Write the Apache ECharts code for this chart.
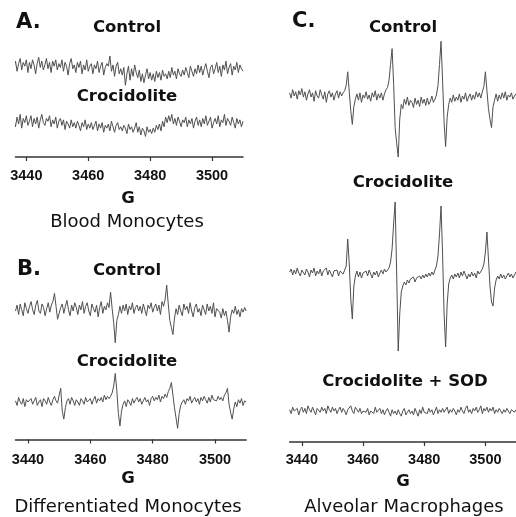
<!DOCTYPE html>
<html>
<head>
<meta charset="utf-8">
<script src="https://cdn.jsdelivr.net/npm/echarts@6/dist/echarts.min.js"></script>
<style>html,body{margin:0;padding:0;background:#fff}#c{width:516px;height:517px}</style>
</head>
<body>
<div id="c"></div>
<script>
// Magnetic field (G), sampled every 0.5 G
const field = [
3436,3436.5,3437,3437.5,3438,3438.5,3439,3439.5,3440,3440.5,
3441,3441.5,3442,3442.5,3443,3443.5,3444,3444.5,3445,3445.5,
3446,3446.5,3447,3447.5,3448,3448.5,3449,3449.5,3450,3450.5,
3451,3451.5,3452,3452.5,3453,3453.5,3454,3454.5,3455,3455.5,
3456,3456.5,3457,3457.5,3458,3458.5,3459,3459.5,3460,3460.5,
3461,3461.5,3462,3462.5,3463,3463.5,3464,3464.5,3465,3465.5,
3466,3466.5,3467,3467.5,3468,3468.5,3469,3469.5,3470,3470.5,
3471,3471.5,3472,3472.5,3473,3473.5,3474,3474.5,3475,3475.5,
3476,3476.5,3477,3477.5,3478,3478.5,3479,3479.5,3480,3480.5,
3481,3481.5,3482,3482.5,3483,3483.5,3484,3484.5,3485,3485.5,
3486,3486.5,3487,3487.5,3488,3488.5,3489,3489.5,3490,3490.5,
3491,3491.5,3492,3492.5,3493,3493.5,3494,3494.5,3495,3495.5,
3496,3496.5,3497,3497.5,3498,3498.5,3499,3499.5,3500,3500.5,
3501,3501.5,3502,3502.5,3503,3503.5,3504,3504.5,3505,3505.5,
3506,3506.5,3507,3507.5,3508,3508.5,3509,3509.5,3510];

// A. Blood monocytes
const bloodControl = [
2,7,-1,5,9,0,6,3,8,-2,
6,1,8,4,-3,5,10,2,7,0,
4,9,1,6,-2,7,3,8,0,5,
2,8,-1,6,3,-4,5,9,1,4,
-2,6,2,7,-3,4,0,8,-1,3,
5,-3,4,1,7,-2,3,6,-4,2,
5,3,11,-1,4,-5,3,6,-3,1,
-4,2,-12,-3,3,-8,1,-5,4,-2,
-6,0,-9,-3,-10,-4,1,-7,-2,-8,
-3,-9,-1,-6,-2,-8,0,-5,-3,-7,
-1,-6,2,-4,-1,-7,1,-3,-5,0,
-4,2,-2,-6,3,-1,-5,1,-3,4,
-2,3,-4,1,5,-1,-6,2,4,-3,
1,6,-2,3,-5,4,0,7,-3,2,
5,-4,3,0,6,-2,4,1,-1];
const bloodCroc = [
3,-2,5,0,7,-3,4,1,6,-1,
2,6,-2,4,0,5,-3,3,7,1,
-1,4,2,6,-2,3,0,5,-3,2,
4,-1,3,-4,2,0,-3,3,-2,1,
-3,2,-1,-5,1,-2,3,-4,0,-3,
1,-4,-1,2,-5,0,-3,1,-6,-1,
-3,0,-5,2,-2,-6,-1,1,-4,-2,
-5,-1,-3,-7,0,-4,-2,-6,-3,1,
-6,-2,-8,-3,-5,-9,-2,-6,-4,-7,
-3,-6,-1,-4,0,-5,2,-2,5,1,
6,2,7,0,4,-1,5,2,-2,3,
1,5,-2,3,0,4,-3,2,5,-1,
3,-2,4,0,6,-1,2,5,-3,1,
4,0,6,-2,3,1,7,-1,4,2,
-1,5,1,-3,4,0,3,-2,2];

// B. Differentiated monocytes
const diffControl = [
0,5,-3,6,1,-4,7,2,-2,4,
8,1,-3,5,9,0,-2,6,3,-4,
2,7,-1,5,8,15,4,-7,-2,3,
6,-2,4,9,1,-4,5,0,7,3,
-3,5,1,8,-2,4,7,0,-4,6,
2,-1,5,-5,3,8,-2,4,1,7,
3,16,2,-10,-27,-8,-3,4,-2,5,
0,6,-3,4,1,7,-2,3,5,0,
4,-2,6,1,-4,5,2,7,-1,3,
6,0,5,-3,8,4,10,22,6,-8,
-14,-20,-6,2,-3,5,0,-4,6,1,
4,-2,7,0,-5,3,6,-1,2,-4,
5,1,-3,6,0,4,-2,7,-5,2,
3,-1,-6,2,-4,0,-8,-18,-5,1,
-2,4,-3,1,-5,2,-1,3,0];
const diffCroc = [
1,-3,4,0,-2,3,-4,2,0,-1,
3,-2,1,4,-3,0,2,-4,3,1,
-2,4,0,-3,2,5,1,-1,6,12,
-8,-15,-5,1,3,-2,4,1,-3,2,
0,-3,3,1,-2,4,0,-1,3,-2,
2,5,-1,3,1,4,0,6,2,5,
3,5,8,14,25,10,-10,-21,-8,-2,
1,-4,2,0,-3,3,-1,2,4,0,
3,-2,1,4,0,2,-3,3,5,1,
4,2,6,0,5,3,7,4,9,12,
17,6,-5,-14,-23,-10,-3,0,2,-2,
3,1,5,-1,2,4,0,3,-2,4,
1,5,2,-1,4,0,6,2,3,1,
5,2,4,1,6,8,12,-2,-9,-15,
-6,0,-4,2,-1,3,-3,1,0];

// C. Alveolar macrophages
const alvControl = [
3,-2,6,0,4,-3,5,1,7,-1,
4,-4,2,6,-1,3,-5,5,0,-2,
6,1,-3,4,-6,2,5,-1,3,-4,
2,5,-2,4,0,3,5,10,23,4,
-14,-27,-10,-3,2,-4,3,-6,1,-2,
4,-3,1,-5,3,-1,5,-4,2,-2,
3,-4,2,6,8,15,30,45,12,-30,
-45,-58,-22,-8,-12,-3,-8,-1,-9,-4,
-6,-11,-2,-8,-4,-10,-1,-7,-3,-9,
-2,-8,-5,0,-6,-3,1,10,30,52,
15,-25,-48,-20,-8,-2,-6,1,-5,-1,
-4,2,-6,0,-3,3,-5,-1,2,-4,
1,-3,4,-1,3,-2,4,9,23,5,
-12,-22,-30,-10,-4,2,-5,1,-3,3,
-2,4,-4,1,-1,3,-3,0,2];
const alvCroc = [
2,5,-1,4,0,6,1,-2,4,3,
-1,5,2,-3,4,1,6,-2,3,0,
5,-2,3,1,6,-1,4,2,-3,3,
1,4,-2,3,5,0,4,8,35,10,
-25,-45,-12,-2,3,-3,2,-4,1,-1,
3,-2,4,0,-4,2,-1,3,-3,1,
4,0,5,2,4,6,12,25,50,72,
0,-77,-40,-18,-12,-8,-11,-6,-9,-5,
-7,-3,-8,-4,-6,-2,-5,-1,-4,0,
-3,1,-2,2,-1,4,8,18,40,68,
20,-40,-73,-30,-10,-4,-1,-5,0,-3,
1,-4,2,-2,3,-1,-5,0,-3,2,
-2,1,-4,3,0,2,5,10,22,42,
15,-12,-28,-32,-14,-6,-2,-5,0,-4,
-1,-5,-2,1,-3,0,-4,-1,2];
const alvCrocSOD = [
1,-2,3,0,-1,2,-3,1,3,-1,
2,-2,4,1,-1,3,0,-3,2,1,
-1,3,0,2,-2,4,1,-1,3,0,
2,-2,1,3,-1,2,0,-3,1,2,
4,0,-2,3,1,-1,2,-2,0,1,
-1,2,-3,0,1,-2,3,-1,0,2,
-2,1,-3,0,2,-1,-4,1,-2,0,
-3,1,-2,-4,0,2,-3,-1,1,-2,
0,-3,2,-1,-4,1,-2,3,-1,0,
-2,2,-1,1,-3,0,3,-2,1,-1,
2,-1,0,3,-2,1,-1,2,0,-3,
1,-1,3,0,-2,2,4,-1,1,-2,
2,0,3,-1,1,4,-2,2,0,3,
-1,2,0,3,-2,1,-1,2,0,-2,
1,-1,2,0,-2,1,0,-1,1];

const tickValues = [3440, 3460, 3480, 3500];

// ---------- layout ----------
const panels = {
  A: {left: 15.5, width: 227.5, min: 3436.5, max: 3510, axisY: 157, labelMargin: 11},
  B: {left: 15.5, width: 230.7, min: 3436, max: 3510, axisY: 439.5, labelMargin: 13},
  C: {left: 289.6, width: 229.4, min: 3436, max: 3510, axisY: 442, labelMargin: 10}
};
// yHalf: data units spanning half of the 160px-tall trace window (smaller = taller trace)
const traces = [
  {panel: 'A', base: 60, yHalf: 55, data: bloodControl},
  {panel: 'A', base: 124, yHalf: 58, data: bloodCroc},
  {panel: 'B', base: 311, yHalf: 68, data: diffControl},
  {panel: 'B', base: 402, yHalf: 70, data: diffCroc},
  {panel: 'C', base: 96, yHalf: 76, data: alvControl},
  {panel: 'C', base: 274, yHalf: 80, data: alvCroc},
  {panel: 'C', base: 411, yHalf: 62, data: alvCrocSOD}
];

const grid = [], xAxis = [], yAxis = [], series = [];
traces.forEach((t, i) => {
  const p = panels[t.panel];
  grid.push({left: p.left, width: p.width, top: t.base - 80, height: 160});
  xAxis.push({gridIndex: i, type: 'value', min: p.min, max: p.max, show: false});
  yAxis.push({gridIndex: i, type: 'value', min: -t.yHalf, max: t.yHalf, show: false});
  series.push({
    type: 'line', xAxisIndex: i, yAxisIndex: i, showSymbol: false, symbol: 'none',
    animation: false, silent: true, clip: false,
    lineStyle: {color: '#505050', width: 1},
    data: field.map((g, k) => [g, t.data[k]])
  });
});
['A', 'B', 'C'].forEach((k) => {
  const p = panels[k];
  const gi = grid.length;
  grid.push({left: p.left, width: p.width, top: p.axisY - 20, height: 20});
  xAxis.push({
    gridIndex: gi, type: 'value', min: p.min, max: p.max, position: 'bottom',
    axisLine: {show: true, lineStyle: {color: '#333', width: 1.5}},
    axisTick: {show: true, inside: false, length: 4, customValues: tickValues, lineStyle: {color: '#333', width: 1.2}},
    axisLabel: {show: true, customValues: tickValues, margin: p.labelMargin, color: '#111',
      fontFamily: 'Liberation Sans', fontWeight: 'bold', fontSize: 14.5,
      formatter: (v) => String(v)},
    splitLine: {show: false}
  });
  yAxis.push({gridIndex: gi, type: 'value', min: 0, max: 1, show: false});
});

function txt(text, x, y, size, bold, align) {
  return {
    type: 'text', x: x, y: y, silent: true,
    style: {
      text: text, fill: '#111',
      font: (bold ? 'bold ' : '') + size + 'px "DejaVu Sans"',
      fontFamily: 'DejaVu Sans', fontSize: size, fontWeight: bold ? 'bold' : 'normal',
      align: align || 'center', textAlign: align || 'center',
      verticalAlign: 'middle', textVerticalAlign: 'middle'
    }
  };
}
const graphic = [
  txt('A.', 16, 23, 21, true, 'left'),
  txt('Control', 127, 28, 16.5, true),
  txt('Crocidolite', 127, 97, 16.5, true),
  txt('G', 128, 199, 16.5, true),
  txt('Blood Monocytes', 127, 222, 18, false),

  txt('B.', 17, 270, 21, true, 'left'),
  txt('Control', 127, 271, 16.5, true),
  txt('Crocidolite', 127, 362, 16.5, true),
  txt('G', 128, 479, 16.5, true),
  txt('Differentiated Monocytes', 128, 507, 18, false),

  txt('C.', 292, 22, 21, true, 'left'),
  txt('Control', 403, 28, 16.5, true),
  txt('Crocidolite', 403, 183, 16.5, true),
  txt('Crocidolite + SOD', 405, 382, 16.5, true),
  txt('G', 403, 482, 16.5, true),
  txt('Alveolar Macrophages', 404, 507, 18, false)
];

const chart = echarts.init(document.getElementById('c'), null, {renderer: 'canvas'});
chart.setOption({
  animation: false,
  backgroundColor: '#fff',
  grid: grid, xAxis: xAxis, yAxis: yAxis, series: series, graphic: graphic
});
</script>
</body>
</html>
